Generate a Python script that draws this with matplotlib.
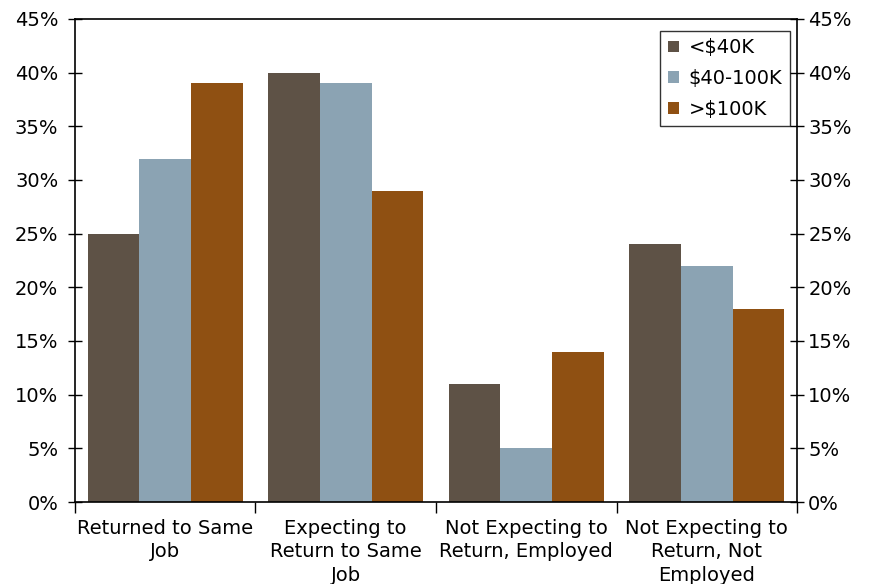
import matplotlib
matplotlib.use('Agg')
import matplotlib.pyplot as plt
import numpy as np

plt.rcParams['font.family'] = ['DejaVu Sans']
plt.rcParams['font.size'] = 14

categories = ['Returned to Same\nJob', 'Expecting to\nReturn to Same\nJob',
              'Not Expecting to\nReturn, Employed',
              'Not Expecting to\nReturn, Not\nEmployed']
series = ['<$40K', '$40-100K', '>$100K']
low = [25, 40, 11, 24]
mid = [32, 39, 5, 22]
high = [39, 29, 14, 18]
colors = ['#5e5246', '#8ba3b3', '#8f5012']
yticks = [0, 5, 10, 15, 20, 25, 30, 35, 40, 45]
ylabels = ['{}%'.format(t) for t in yticks]

fig = plt.figure(figsize=(8.77, 5.84), dpi=100)
ax = fig.add_axes([0.0855, 0.1404, 0.8233, 0.8271])

x = np.arange(len(categories)) + 0.5
w = 0.287
for i, (vals, lab) in enumerate(zip((low, mid, high), series)):
    ax.bar(x + (i - 1) * w, vals, w, color=colors[i], label=lab)

ax.set_xlim(0, 4)
ax.set_ylim(0, 45)
ax.set_yticks(yticks)
ax.set_yticklabels(ylabels)
ax.tick_params(axis='y', direction='inout', length=10, width=1,
               left=True, right=False, pad=7)

# right hand labels on a twin so they get their own pad
ax2 = ax.twinx()
ax2.set_ylim(0, 45)
ax2.set_yticks(yticks)
ax2.set_yticklabels(ylabels)
ax2.tick_params(axis='y', direction='inout', length=10, width=1, pad=3)
for s in ax2.spines.values():
    s.set_visible(False)

ax.set_xticks([0, 1, 2, 3, 4])
ax.set_xticklabels([])
ax.tick_params(axis='x', which='major', direction='out', length=8, width=1)
ax.set_xticks(x, minor=True)
ax.set_xticklabels(categories, minor=True, linespacing=1.3)
ax.tick_params(axis='x', which='minor', length=0, pad=12)

for s in ax.spines.values():
    s.set_linewidth(1.2)
    s.set_color('black')

leg = ax.legend(loc='upper right', bbox_to_anchor=(0.99, 0.976),
                frameon=True, fancybox=False, edgecolor='black',
                handlelength=0.55, handleheight=0.55, handletextpad=0.5,
                borderpad=0.4, labelspacing=0.6, borderaxespad=0)
leg.get_frame().set_linewidth(1)

fig.savefig('out.png', dpi=100)
